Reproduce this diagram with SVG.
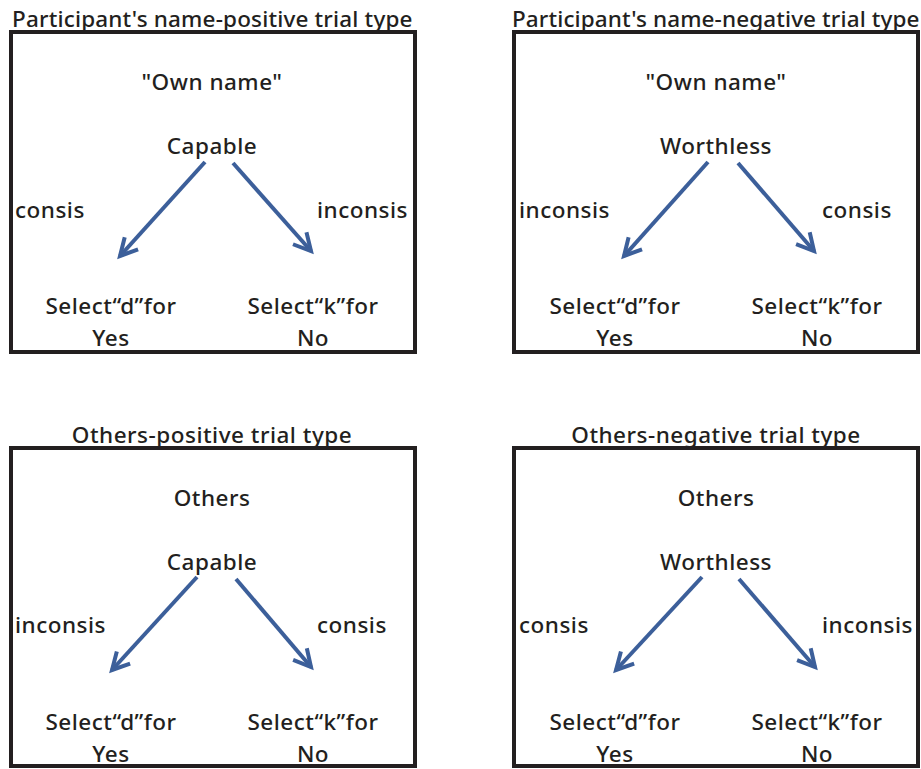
<svg xmlns="http://www.w3.org/2000/svg" width="921" height="769" viewBox="0 0 921 769">
<style>
text{font-family:"Noto Sans","Open Sans","Liberation Sans",sans-serif;font-size:22.5px;font-weight:500;letter-spacing:0.5px;fill:#231f20}
.c{text-anchor:middle}
.box{fill:none;stroke:#231f20;stroke-width:4}
.arr{fill:none;stroke:#3c5f9a;stroke-width:4;marker-end:url(#ah)}
</style>
<defs>
<marker id="ah" viewBox="-24 -16 32 32" refX="0" refY="0" markerWidth="32" markerHeight="32" markerUnits="userSpaceOnUse" orient="auto">
<path d="M-17,-9 L0,0 L-17,9" fill="none" stroke="#3c5f9a" stroke-width="4" stroke-linejoin="miter"/>
</marker>
</defs>
<rect width="921" height="769" fill="#fff"/>
<g id="panel1">
<text x="12" y="27" textLength="401">Participant's name-positive trial type</text>
<rect class="box" x="11" y="32" width="404" height="320"/>
<text class="c" x="212" y="90">"Own name"</text>
<text class="c" x="212" y="154">Capable</text>
<text x="15" y="218">consis</text>
<text x="317" y="218">inconsis</text>
<text class="c" x="111" y="314">Select“d”for</text>
<text class="c" x="111" y="346">Yes</text>
<text class="c" x="313" y="314">Select“k”for</text>
<text class="c" x="313" y="346">No</text>
</g>
<g id="panel2">
<text x="512" y="27" textLength="408">Participant's name-negative trial type</text>
<rect class="box" x="514" y="32" width="404" height="320"/>
<text class="c" x="716" y="90">"Own name"</text>
<text class="c" x="716" y="154">Worthless</text>
<text x="519" y="218">inconsis</text>
<text x="822" y="218">consis</text>
<text class="c" x="615" y="314">Select“d”for</text>
<text class="c" x="615" y="346">Yes</text>
<text class="c" x="817" y="314">Select“k”for</text>
<text class="c" x="817" y="346">No</text>
</g>
<g id="panel3">
<text class="c" x="212" y="443">Others-positive trial type</text>
<rect class="box" x="11" y="448" width="404" height="318"/>
<text class="c" x="212" y="506">Others</text>
<text class="c" x="212" y="570">Capable</text>
<text x="15" y="633">inconsis</text>
<text x="317" y="633">consis</text>
<text class="c" x="111" y="730">Select“d”for</text>
<text class="c" x="111" y="762">Yes</text>
<text class="c" x="313" y="730">Select“k”for</text>
<text class="c" x="313" y="762">No</text>
</g>
<g id="panel4">
<text class="c" x="716" y="443">Others-negative trial type</text>
<rect class="box" x="514" y="448" width="404" height="318"/>
<text class="c" x="716" y="506">Others</text>
<text class="c" x="716" y="570">Worthless</text>
<text x="519" y="633">consis</text>
<text x="822" y="633">inconsis</text>
<text class="c" x="615" y="730">Select“d”for</text>
<text class="c" x="615" y="762">Yes</text>
<text class="c" x="817" y="730">Select“k”for</text>
<text class="c" x="817" y="762">No</text>
</g>
<g id="connectors">
<line class="arr" x1="205" y1="162" x2="120" y2="256"/>
<line class="arr" x1="233" y1="163" x2="311" y2="251"/>
<line class="arr" x1="708" y1="162" x2="624" y2="256"/>
<line class="arr" x1="738" y1="163" x2="814" y2="251"/>
<line class="arr" x1="197" y1="577" x2="112" y2="670"/>
<line class="arr" x1="236" y1="579" x2="311" y2="667"/>
<line class="arr" x1="702" y1="577" x2="616" y2="670"/>
<line class="arr" x1="739" y1="579" x2="815" y2="667"/>
</g>
</svg>
